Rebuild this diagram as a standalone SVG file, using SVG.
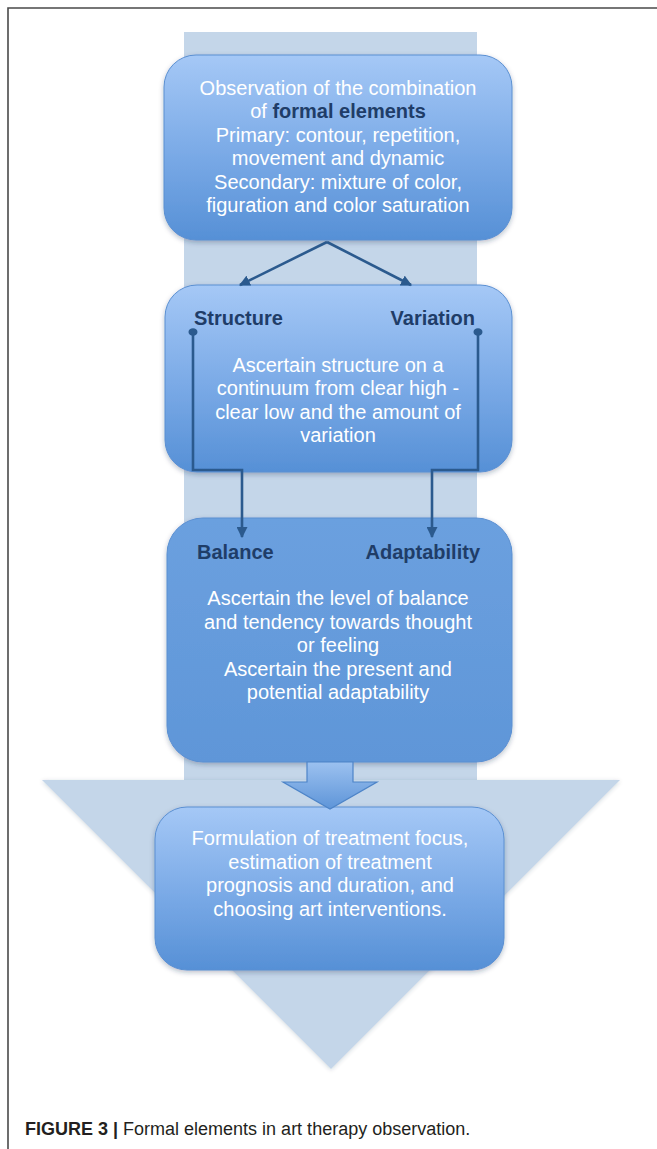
<svg xmlns="http://www.w3.org/2000/svg" width="657" height="1149" viewBox="0 0 657 1149">
  <style>
    .frame{fill:none;stroke:#4a4a4a;stroke-width:1.6}
    .bg{fill:#c4d6e9}
    .box{stroke:#5a8fd2;stroke-width:1;filter:url(#sh)}
    .body{font-family:"Liberation Sans",Arial,sans-serif;font-size:20px;fill:#ffffff;text-anchor:middle}
    .lbl{font-family:"Liberation Sans",Arial,sans-serif;font-size:20px;font-weight:bold;fill:#1f3d68}
    .em{font-weight:bold;fill:#1f3d68}
    .con{fill:none;stroke:#2b5a8e;stroke-width:2.6}
    .dot{fill:#2b5a8e}
    .cap{font-family:"Liberation Sans",Arial,sans-serif;font-size:18px;fill:#231f20}
  </style>
  <defs>
    <linearGradient id="gA" x1="0" y1="0" x2="0" y2="1">
      <stop offset="0" stop-color="#a5c8f6"/>
      <stop offset="0.55" stop-color="#79a9e6"/>
      <stop offset="1" stop-color="#5690d6"/>
    </linearGradient>
    <linearGradient id="gB" x1="0" y1="0" x2="0" y2="1">
      <stop offset="0" stop-color="#6ba0df"/>
      <stop offset="1" stop-color="#5f96d8"/>
    </linearGradient>
    <linearGradient id="gArr" x1="0" y1="0" x2="0" y2="1">
      <stop offset="0" stop-color="#9cc1f0"/>
      <stop offset="1" stop-color="#5e95d8"/>
    </linearGradient>
    <filter id="sh" x="-10%" y="-10%" width="120%" height="125%">
      <feDropShadow dx="0" dy="2" stdDeviation="2.5" flood-color="#1a3050" flood-opacity="0.3"/>
    </filter>
    <filter id="sh2" x="-5%" y="-5%" width="110%" height="110%">
      <feDropShadow dx="0" dy="1" stdDeviation="2" flood-color="#2a3a50" flood-opacity="0.2"/>
    </filter>
    <marker id="ah" viewBox="0 0 10 10" refX="9" refY="5" markerWidth="11" markerHeight="11" markerUnits="userSpaceOnUse" orient="auto">
      <path d="M0,0 L10,5 L0,10 Z" fill="#2b5a8e"/>
    </marker>
  </defs>

  <rect width="657" height="1149" fill="#ffffff"/>
  <path class="frame" d="M8,1149 L8,8 L657,8"/>

  <g id="background">
    <rect class="bg" x="184" y="32" width="293" height="750"/>
    <polygon class="bg" points="42,780 620,780 331,1069" filter="url(#sh2)"/>
  </g>

  <g id="node-observation">
    <rect class="box" x="164" y="55" width="348" height="185" rx="32" fill="url(#gA)"/>
    <text class="body" x="338" y="95">Observation of the combination</text>
    <text class="body" x="338" y="118.4">of <tspan class="em">formal elements</tspan></text>
    <text class="body" x="338" y="141.8">Primary: contour, repetition,</text>
    <text class="body" x="338" y="165.2">movement and dynamic</text>
    <text class="body" x="338" y="188.6">Secondary: mixture of color,</text>
    <text class="body" x="338" y="212">figuration and color saturation</text>
  </g>

  <g id="node-structure-variation">
    <rect class="box" x="165" y="285" width="347" height="187" rx="32" fill="url(#gA)"/>
    <text class="lbl" x="194" y="325">Structure</text>
    <text class="lbl" x="475" y="325" text-anchor="end">Variation</text>
    <text class="body" x="338" y="372">Ascertain structure on a</text>
    <text class="body" x="338" y="395.4">continuum from clear high -</text>
    <text class="body" x="338" y="418.8">clear low and the amount of</text>
    <text class="body" x="338" y="442">variation</text>
  </g>

  <g id="node-balance-adaptability">
    <rect class="box" x="167" y="518" width="345" height="244" rx="36" fill="url(#gB)"/>
    <text class="lbl" x="197" y="559">Balance</text>
    <text class="lbl" x="480" y="559" text-anchor="end">Adaptability</text>
    <text class="body" x="338" y="605">Ascertain the level of balance</text>
    <text class="body" x="338" y="628.5">and tendency towards thought</text>
    <text class="body" x="338" y="652">or feeling</text>
    <text class="body" x="338" y="675.5">Ascertain the present and</text>
    <text class="body" x="338" y="699">potential adaptability</text>
  </g>

  <g id="node-formulation">
    <rect class="box" x="155" y="807" width="349" height="163" rx="32" fill="url(#gA)"/>
    <text class="body" x="330" y="845">Formulation of treatment focus,</text>
    <text class="body" x="330" y="868.5">estimation of treatment</text>
    <text class="body" x="330" y="892">prognosis and duration, and</text>
    <text class="body" x="330" y="915.5">choosing art interventions.</text>
  </g>

  <g id="connectors">
    <line class="con" x1="327" y1="242" x2="240" y2="285" marker-end="url(#ah)"/>
    <line class="con" x1="327" y1="242" x2="411" y2="285" marker-end="url(#ah)"/>
    <ellipse class="dot" cx="193" cy="332" rx="4.5" ry="3.8"/>
    <ellipse class="dot" cx="478" cy="332" rx="4.5" ry="3.8"/>
    <path class="con" d="M193,332 L193,470 L242,470 L242,537" marker-end="url(#ah)"/>
    <path class="con" d="M478,332 L478,470 L432,470 L432,537" marker-end="url(#ah)"/>
    <path d="M307,762 L353,762 L353,782 L377,782 L330,809 L283,782 L307,782 Z" fill="url(#gArr)" stroke="#4d84c8" stroke-width="1.2"/>
  </g>

  <text class="cap" x="25" y="1135"><tspan font-weight="bold">FIGURE 3 |</tspan> Formal elements in art therapy observation.</text>
</svg>
